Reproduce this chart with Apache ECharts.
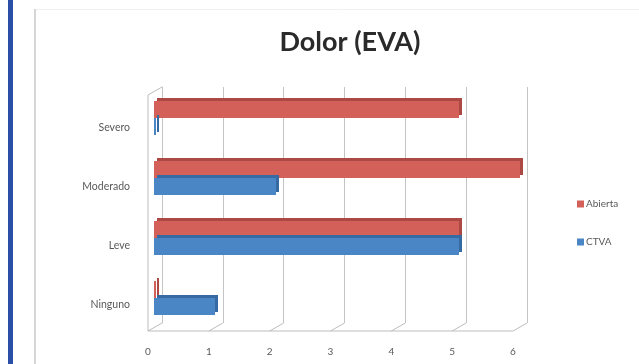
<!DOCTYPE html>
<html>
<head>
<meta charset="utf-8">
<script src="https://cdn.jsdelivr.net/npm/echarts@6/dist/echarts.min.js"></script>
<style>
  html, body { margin: 0; padding: 0; background: #fff; }
  #chart { width: 639px; height: 364px; }
</style>
</head>
<body>
<div id="chart"></div>
<script>
// Pain level categories (bottom to top) and counts per surgical approach
const categories = ['Ninguno', 'Leve', 'Moderado', 'Severo'];
const seriesNames = ['Abierta', 'CTVA'];
const abiertaValues = [0, 5, 6, 5];
const ctvaValues = [1, 5, 2, 0];
const xTicks = [0, 1, 2, 3, 4, 5, 6];

const chart = echarts.init(document.getElementById('chart'), null, { renderer: 'canvas' });

const FONT = 'Lato, "Open Sans", sans-serif';
const DEPTH_X = 14, DEPTH_Y = 8;

const option = {
  backgroundColor: '#ffffff',
  animation: false,
  title: {
    text: 'Dolor (EVA)',
    left: 345,
    top: 24,
    textAlign: 'center',
    textStyle: { fontFamily: FONT, fontWeight: 'bold', fontSize: 27, color: '#2a2a2a' }
  },
  legend: {
    data: seriesNames,
    orient: 'vertical',
    left: 572,
    top: 194,
    itemWidth: 7,
    itemHeight: 7,
    itemGap: 28,
    icon: 'rect',
    textStyle: { fontFamily: FONT, fontSize: 10, color: '#595959', padding: [0, 0, 0, -3] }
  },
  grid: [
    // back wall of the 3D plot
    { left: 162, right: 112, top: 87, bottom: 41 },
    // plane the bars float in
    { left: 154, right: 119, top: 88, bottom: 36 }
  ],
  xAxis: [
    {
      gridIndex: 0, type: 'value', min: xTicks[0], max: xTicks[xTicks.length - 1], interval: 1,
      axisLine: { show: false }, axisTick: { show: false },
      splitLine: { lineStyle: { color: '#c4c4c4', width: 1 } },
      axisLabel: { fontFamily: FONT, fontSize: 10, color: '#595959', margin: 24, padding: [0, 2 * DEPTH_X, 0, 0] }
    },
    {
      gridIndex: 1, type: 'value', min: xTicks[0], max: xTicks[xTicks.length - 1], interval: 1,
      show: false
    }
  ],
  yAxis: [
    {
      gridIndex: 0, type: 'category', data: categories,
      axisLine: { show: true, lineStyle: { color: '#c4c4c4' } },
      axisTick: { show: false },
      axisLabel: { fontFamily: FONT, fontSize: 10.5, color: '#595959', margin: 32, verticalAlign: 'top', padding: [6, 0, 0, 0] }
    },
    { gridIndex: 1, type: 'category', data: categories, show: false }
  ],
  series: [
    {
      name: seriesNames[0], type: 'bar', xAxisIndex: 1, yAxisIndex: 1,
      data: abiertaValues, barWidth: 17, barGap: '0%', barMinHeight: 2,
      itemStyle: { color: '#d4605a', shadowColor: '#ad4944', shadowOffsetX: 3, shadowOffsetY: -3, shadowBlur: 0 }
    },
    {
      name: seriesNames[1], type: 'bar', xAxisIndex: 1, yAxisIndex: 1,
      data: ctvaValues, barWidth: 17, barGap: '0%', barMinHeight: 2,
      itemStyle: { color: '#4a86c6', shadowColor: '#366aa3', shadowOffsetX: 3, shadowOffsetY: -3, shadowBlur: 0 }
    }
  ]
};

chart.setOption(option);

// Decorations: page frame plus the side wall and floor of the 3D plot, positioned from the axis scale
const x0 = chart.convertToPixel({ xAxisIndex: 0 }, xTicks[0]);
const yTop = chart.convertToPixel({ yAxisIndex: 0 }, categories[categories.length - 1]) - 29.5;
const yBot = chart.convertToPixel({ yAxisIndex: 0 }, categories[0]) + 29.5;
const wallStyle = { stroke: '#bdbdbd', lineWidth: 1 };
const elements = [
  { type: 'rect', shape: { x: 8, y: 0, width: 5, height: 364 }, style: { fill: '#2b4fa6' }, silent: true },
  { type: 'rect', shape: { x: 34, y: 9, width: 2, height: 355 }, style: { fill: '#d6d6d6' }, silent: true },
  { type: 'line', shape: { x1: 36, y1: 9.5, x2: 639, y2: 9.5 }, style: { stroke: '#f0f0f0', lineWidth: 1 }, silent: true },
  { type: 'line', shape: { x1: x0 - DEPTH_X, y1: yTop + DEPTH_Y, x2: x0 - DEPTH_X, y2: yBot + DEPTH_Y }, style: wallStyle, silent: true },
  { type: 'line', shape: { x1: x0, y1: yTop, x2: x0 - DEPTH_X, y2: yTop + DEPTH_Y }, style: wallStyle, silent: true }
];
xTicks.forEach(function (t) {
  const px = chart.convertToPixel({ xAxisIndex: 0 }, t);
  elements.push({ type: 'line', shape: { x1: px, y1: yBot, x2: px - DEPTH_X, y2: yBot + DEPTH_Y }, style: wallStyle, silent: true });
});
const xEnd = chart.convertToPixel({ xAxisIndex: 0 }, xTicks[xTicks.length - 1]);
elements.push({ type: 'line', shape: { x1: x0 - DEPTH_X, y1: yBot + DEPTH_Y, x2: xEnd - DEPTH_X, y2: yBot + DEPTH_Y }, style: wallStyle, silent: true });
chart.setOption({ graphic: { elements: elements } });
</script>
</body>
</html>
